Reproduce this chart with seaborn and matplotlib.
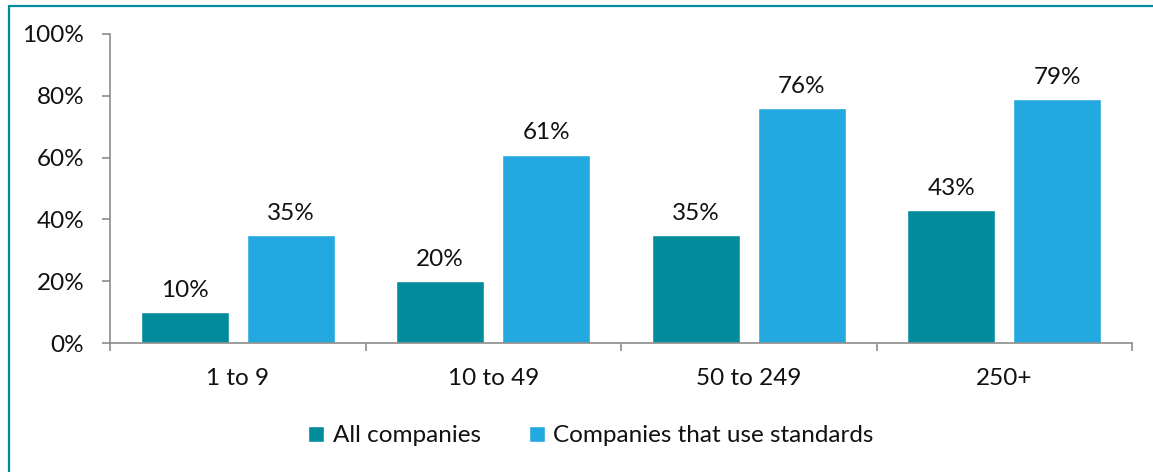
import matplotlib
matplotlib.use("Agg")
import matplotlib.pyplot as plt
from matplotlib.lines import Line2D
from matplotlib.ticker import FixedLocator
import seaborn as sns
import pandas as pd

# Company size bands and shares (%) for each group
sizes = ["1 to 9", "10 to 49", "50 to 249", "250+"]
all_companies = [10, 20, 35, 43]
standards_users = [35, 61, 76, 79]
groups = ["All companies", "Companies that use standards"]
y_ticks = [0, 20, 40, 60, 80, 100]

df = pd.DataFrame({
    "size": sizes * 2,
    "pct": all_companies + standards_users,
    "group": [groups[0]] * len(sizes) + [groups[1]] * len(sizes),
})

TEAL = "#028B9B"
BLUE = "#23A8E0"
AXIS_GREY = "#8C8C8C"
FS = 17.5

sns.set_theme(style="white")
plt.rcParams["font.family"] = ["Lato", "DejaVu Sans"]
plt.rcParams["font.size"] = FS

fig = plt.figure(figsize=(11.53, 4.72), dpi=100)
ax = fig.add_axes([110 / 1153, 1 - 343 / 472, (1132 - 110) / 1153, (343 - 34) / 472])

sns.barplot(data=df, x="size", y="pct", hue="group", order=sizes,
            hue_order=groups, palette=[TEAL, BLUE], width=0.83, gap=0.17,
            saturation=1, ax=ax)

for cont in ax.containers:
    ax.bar_label(cont, fmt="%g%%", padding=8, fontsize=FS, color="#111111")

ax.set_ylim(0, 100)
ax.set_xlim(-0.5, len(sizes) - 0.5)
ax.set_yticks(y_ticks)
ax.set_yticklabels([f"{t}%" for t in y_ticks])
ax.xaxis.set_minor_locator(FixedLocator([i - 0.5 for i in range(len(sizes) + 1)]))
ax.set_xlabel("")
ax.set_ylabel("")

for side in ["top", "right"]:
    ax.spines[side].set_visible(False)
for side in ["left", "bottom"]:
    ax.spines[side].set_color(AXIS_GREY)
    ax.spines[side].set_linewidth(1.2)

ax.tick_params(axis="y", which="major", direction="out", length=5.5, width=1.2,
               color=AXIS_GREY, pad=13, labelsize=FS, labelcolor="#111111", left=True)
ax.tick_params(axis="x", which="major", length=0, pad=18, labelsize=FS,
               labelcolor="#111111")
ax.tick_params(axis="x", which="minor", direction="out", length=5.5, width=1.2,
               color=AXIS_GREY, bottom=True)

handles, labels = ax.get_legend_handles_labels()
ax.get_legend().remove()
fig.legend(handles, labels, loc="center", bbox_to_anchor=(591 / 1153, 1 - 436 / 472),
           ncol=2, frameon=False, fontsize=FS, handlelength=0.65, handleheight=0.65,
           handletextpad=0.35, columnspacing=2.0, labelcolor="#111111")

# teal chart frame along top and left edges
fig.add_artist(Line2D([8.5 / 1153, 8.5 / 1153], [0, 1 - 5.5 / 472],
                      transform=fig.transFigure, color=TEAL, linewidth=1.6))
fig.add_artist(Line2D([8.5 / 1153, 1], [1 - 5.5 / 472, 1 - 5.5 / 472],
                      transform=fig.transFigure, color=TEAL, linewidth=1.6))

fig.savefig("out.png", dpi=100)
